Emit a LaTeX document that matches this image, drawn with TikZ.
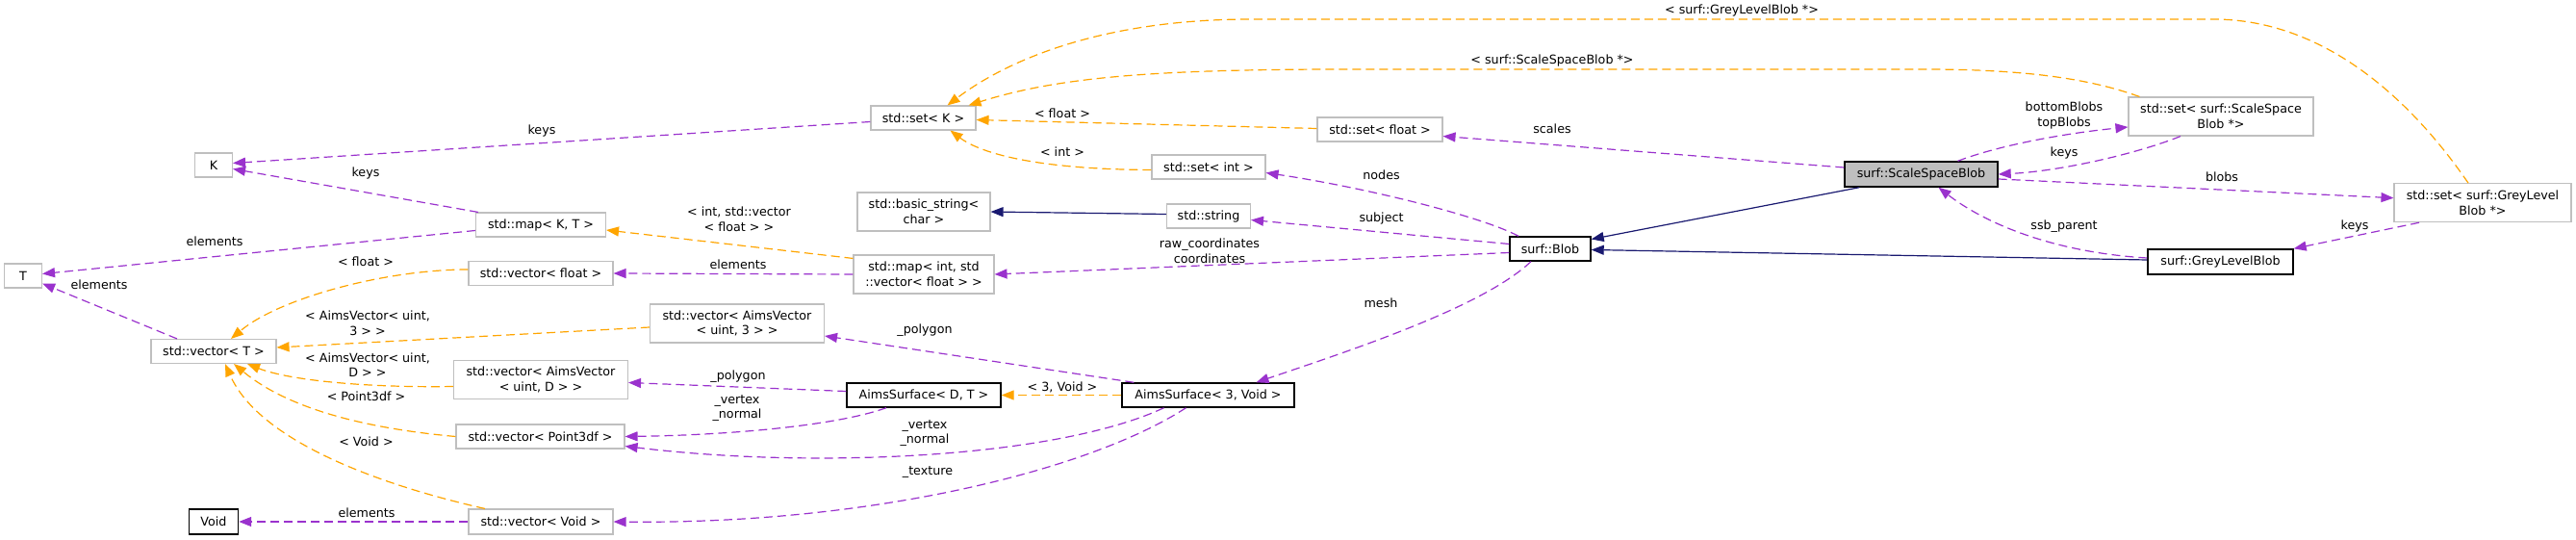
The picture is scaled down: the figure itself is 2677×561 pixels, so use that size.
\documentclass[tikz,border=0pt]{standalone}
\usepackage{fontspec}
\setmainfont{DejaVu Sans}
\usetikzlibrary{arrows.meta}
\definecolor{usecol}{HTML}{9A32CD}
\definecolor{tplcol}{HTML}{FFA500}
\definecolor{inhcol}{HTML}{191970}
\definecolor{boxgray}{HTML}{BFBFBF}
\begin{document}
\begin{tikzpicture}[x=1pt,y=-1pt,
  font=\fontsize{12.7}{15.5}\selectfont,
  cls/.style={draw=boxgray,line width=1.1pt,fill=white,inner sep=0pt,minimum height=25pt,align=center},
  doc/.style={cls,draw=black,line width=1.4pt},
  usage/.style={draw=usecol,line width=1.2pt,dash pattern=on 9pt off 5pt,-{Triangle[length=13pt,width=10pt]}},
  tpl/.style={draw=tplcol,line width=1.2pt,dash pattern=on 9pt off 5pt,-{Triangle[length=13pt,width=10pt]}},
  inh/.style={draw=inhcol,line width=1.2pt,-{Triangle[length=13pt,width=10pt]}},
  lbl/.style={inner sep=0pt,align=center}
]
\useasboundingbox (0,0) rectangle (2677,561);

% nodes
\node[cls,minimum width=39pt] (K) at (222,171.5) {K};
\node[cls,minimum width=39pt] (T) at (24,286.5) {T};
\node[cls,minimum width=135pt] (mapKT) at (562,233.5) {std::map< K, T >};
\node[cls,minimum width=150pt] (vecF) at (562,284) {std::vector< float >};
\node[cls,minimum width=130pt] (vecT) at (222,365) {std::vector< T >};
\node[cls,minimum width=109pt] (setK) at (959.5,122.5) {std::set< K >};
\node[cls,minimum width=118pt] (setInt) at (1256,173.5) {std::set< int >};
\node[cls,minimum width=138pt,minimum height=40pt] (bstr) at (960,220) {std::basic\_string<\\char >};
\node[cls,minimum width=87pt] (str) at (1256,224.5) {std::string};
\node[cls,minimum width=146pt,minimum height=40pt] (mapInt) at (960,285) {std::map< int, std\\::vector< float > >};
\node[cls,minimum width=130pt] (setF) at (1434,134.5) {std::set< float >};
\node[cls,minimum width=181pt,minimum height=40pt] (vecAV3) at (766,336) {std::vector< AimsVector\\< uint, 3 > >};
\node[doc,minimum width=160pt] (ASDT) at (960,410.5) {AimsSurface< D, T >};
\node[doc,minimum width=179pt] (AS3V) at (1255.5,410.5) {AimsSurface< 3, Void >};
\node[cls,minimum width=181pt,minimum height=40pt] (vecAVD) at (562,394.5) {std::vector< AimsVector\\< uint, D > >};
\node[cls,minimum width=175pt] (vecP3) at (561.5,453.5) {std::vector< Point3df >};
\node[doc,minimum width=51pt,minimum height=26pt] (Void) at (222,542) {Void};
\node[cls,minimum width=150pt,minimum height=26pt] (vecVoid) at (562,542) {std::vector< Void >};
\node[doc,fill=boxgray,minimum width=159pt,minimum height=26pt] (SSB) at (1996.5,181) {surf::ScaleSpaceBlob};
\node[doc,minimum width=84pt] (Blob) at (1611,258.5) {surf::Blob};
\node[cls,minimum width=192pt,minimum height=40pt] (setSSB) at (2308,121) {std::set< surf::ScaleSpace\\Blob *>};
\node[cls,minimum width=184pt,minimum height=40pt] (setGLB) at (2580,210.7) {std::set< surf::GreyLevel\\Blob *>};
\node[doc,minimum width=151pt,minimum height=26pt] (GLB) at (2307.5,272) {surf::GreyLevelBlob};

% usage edges
\draw[usage] ([shift={(0,4)}]setK.west) -- ([shift={(0,-2)}]K.east);
\draw[usage] ([shift={(3,0)}]mapKT.north west) -- ([shift={(0,4)}]K.east);
\draw[usage] ([shift={(0,6)}]mapKT.west) -- ([shift={(0,-2)}]T.east);
\draw[usage] ([shift={(-38,0)}]vecT.north) -- ([shift={(0,-5)}]T.south east);
\draw[usage] (mapInt.west) -- (vecF.east);
\draw[usage] ([shift={(0,4)}]Blob.west) -- (mapInt.east);
\draw[usage] ([shift={(-33,0)}]Blob.north) .. controls (1540,225) and (1420,195) .. ([shift={(0,6)}]setInt.east);
\draw[usage] ([shift={(0,-5)}]Blob.west) -- ([shift={(0,4)}]str.east);
\draw[usage] ([shift={(-20,0)}]Blob.south) .. controls (1540,320) and (1400,365) .. ([shift={(50,0)}]AS3V.north);
\draw[usage] ([shift={(0,-7)}]SSB.west) -- ([shift={(0,7)}]setF.east);
\draw[usage] ([shift={(38,0)}]SSB.north) .. controls (2080,150) and (2150,138) .. ([shift={(0,11)}]setSSB.west);
\draw[usage] ([shift={(-42,0)}]setSSB.south) .. controls (2220,160) and (2140,178) .. (SSB.east);
\draw[usage] ([shift={(0,5)}]SSB.east) -- ([shift={(0,-5)}]setGLB.west);
\draw[usage] ([shift={(0,-4)}]GLB.west) .. controls (2130,262) and (2060,230) .. ([shift={(18,0)}]SSB.south);
\draw[usage] ([shift={(-66,0)}]setGLB.south) -- (GLB.north east);
\draw[usage] ([shift={(13,0)}]AS3V.north west) -- ([shift={(0,13)}]vecAV3.east);
\draw[usage] ([shift={(0,-4)}]ASDT.west) -- ([shift={(0,3)}]vecAVD.east);
\draw[usage] ([shift={(-39,0)}]ASDT.south) .. controls (870,442) and (760,452) .. (vecP3.east);
\draw[usage] ([shift={(-46,0)}]AS3V.south) .. controls (1100,475) and (850,488) .. ([shift={(0,10)}]vecP3.east);
\draw[usage] ([shift={(-23,0)}]AS3V.south) .. controls (1130,490) and (900,545) .. (vecVoid.east);
\draw[usage] (vecVoid.west) -- (Void.east);

% template edges
\draw[tpl] ([shift={(0,-1)}]setF.west) -- ([shift={(0,2)}]setK.east);
\draw[tpl] ([shift={(0,3)}]setInt.west) .. controls (1080,176) and (1020,160) .. ([shift={(28,0)}]setK.south);
\draw[tpl] ([shift={(12,0)}]setSSB.north west) .. controls (2180,85) and (2120,72) .. (2000,72) -- (1400,72) .. controls (1200,72) and (1100,80) .. ([shift={(-8,0)}]setK.north east);
\draw[tpl] ([shift={(-15,0)}]setGLB.north) .. controls (2510,110) and (2420,20) .. (2300,20) -- (1300,20) .. controls (1150,20) and (1050,60) .. ([shift={(25,0)}]setK.north);
\draw[tpl] ([shift={(0,4)}]mapInt.north west) -- ([shift={(0,5.5)}]mapKT.east);
\draw[tpl] ([shift={(0,-4)}]vecF.west) .. controls (400,280) and (290,310) .. ([shift={(18,0)}]vecT.north);
\draw[tpl] ([shift={(0,4)}]vecAV3.west) -- ([shift={(0,-4)}]vecT.east);
\draw[tpl] ([shift={(0,7)}]vecAVD.west) .. controls (380,403) and (300,395) .. ([shift={(35,0)}]vecT.south);
\draw[tpl] (vecP3.west) .. controls (380,445) and (300,425) .. ([shift={(21,0)}]vecT.south);
\draw[tpl] ([shift={(-58,0)}]vecVoid.north) .. controls (400,505) and (270,460) .. ([shift={(12,0)}]vecT.south);
\draw[tpl] (AS3V.west) -- (ASDT.east);

% inheritance edges
\draw[inh] ([shift={(0,-2)}]str.west) -- (bstr.east);
\draw[inh] ([shift={(16,0)}]SSB.south west) -- ([shift={(0,-10)}]Blob.east);
\draw[inh] ([shift={(0,-2)}]GLB.west) -- ([shift={(0,1)}]Blob.east);

% labels
\node[lbl] (l1) at (563,136) {keys};
\node[lbl] (l2) at (380,180) {keys};
\node[lbl] (l3) at (223,251) {elements};
\node[lbl] (l4) at (103,296) {elements};
\node[lbl] (l5) at (767,275) {elements};
\node[lbl] (l6) at (1257,261) {raw\_coordinates\\coordinates};
\node[lbl] (l7) at (1435.5,182) {nodes};
\node[lbl] (l8) at (1435.5,227) {subject};
\node[lbl] (l9) at (1435,315) {mesh};
\node[lbl] (l10) at (1613,134) {scales};
\node[lbl] (l11) at (2145,120) {bottomBlobs\\topBlobs};
\node[lbl] (l12) at (2145,159) {keys};
\node[lbl] (l13) at (2309,184) {blobs};
\node[lbl] (l14) at (2145,235) {ssb\_parent};
\node[lbl] (l15) at (2447,235) {keys};
\node[lbl] (l16) at (961,343) {\_polygon};
\node[lbl] (l17) at (767,391) {\_polygon};
\node[lbl] (l18) at (766,424) {\_vertex\\\_normal};
\node[lbl] (l19) at (961,450) {\_vertex\\\_normal};
\node[lbl] (l20) at (964,491) {\_texture};
\node[lbl] (l21) at (381,533) {elements};
\node[lbl] (l22) at (1104,118) {< float >};
\node[lbl] (l23) at (1104,158) {< int >};
\node[lbl] (l24) at (1613,63) {< surf::ScaleSpaceBlob *>};
\node[lbl] (l25) at (1810,11) {< surf::GreyLevelBlob *>};
\node[lbl] (l26) at (768,228) {< int, std::vector\\< float > >};
\node[lbl] (l27) at (380,272) {< float >};
\node[lbl] (l28) at (382,336) {< AimsVector< uint,\\3 > >};
\node[lbl] (l29) at (382,379) {< AimsVector< uint,\\D > >};
\node[lbl] (l30) at (380.5,412) {< Point3df >};
\node[lbl] (l31) at (380.5,459) {< Void >};
\node[lbl] (l32) at (1104,402) {< 3, Void >};
\end{tikzpicture}
\end{document}
